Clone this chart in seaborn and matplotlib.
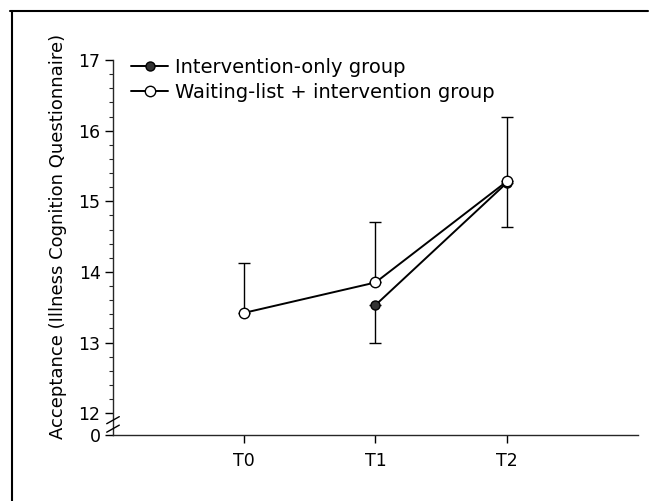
import numpy as np
import pandas as pd
import seaborn as sns
import matplotlib.pyplot as plt
from matplotlib.lines import Line2D
from matplotlib.ticker import MultipleLocator

sns.set_theme(style="ticks")
plt.rcParams["font.family"] = ["DejaVu Sans"]
plt.rcParams["text.color"] = "black"
plt.rcParams["axes.labelcolor"] = "black"

# data
timepoints = ["T0", "T1", "T2"]
waiting_mean = [13.42, 13.85, 15.28]
waiting_upper = [14.13, 14.70, 16.20]
interv_times = ["T1", "T2"]
interv_mean = [13.53, 15.26]
interv_lower = [13.00, 14.64]
ytick_vals = [12, 13, 14, 15, 16, 17]

AXIS_ZERO = 11.69  # where the "0" tick sits below the axis break

wait_df = pd.DataFrame({"x": [timepoints.index(t) for t in timepoints],
                        "y": waiting_mean})
int_df = pd.DataFrame({"x": [timepoints.index(t) for t in interv_times],
                       "y": interv_mean})

fig = plt.figure(figsize=(6.62, 5.01), dpi=100)
ax = fig.add_axes([0.1707, 0.1317, 0.7930, 0.7485])

# error bars (one-sided)
ax.errorbar(int_df["x"], int_df["y"],
            yerr=[np.array(interv_mean) - np.array(interv_lower), np.zeros(len(interv_mean))],
            fmt="none", ecolor="black", elinewidth=1.0, capsize=4.5, capthick=1.0, zorder=2)
ax.errorbar(wait_df["x"], wait_df["y"],
            yerr=[np.zeros(len(waiting_mean)), np.array(waiting_upper) - np.array(waiting_mean)],
            fmt="none", ecolor="black", elinewidth=1.0, capsize=4.5, capthick=1.0, zorder=2)

sns.lineplot(data=int_df, x="x", y="y", ax=ax, color="black", linewidth=1.4,
             marker="o", markersize=6.5, markerfacecolor="#333333",
             markeredgecolor="black", markeredgewidth=1.0, zorder=3)
sns.lineplot(data=wait_df, x="x", y="y", ax=ax, color="black", linewidth=1.4,
             marker="o", markersize=7.5, markerfacecolor="white",
             markeredgecolor="black", markeredgewidth=1.0, zorder=4)

ax.set_xlim(-1, 3)
ax.set_ylim(AXIS_ZERO, 17)
ax.set_xticks(range(len(timepoints)))
ax.set_xticklabels(timepoints)
ax.set_yticks([AXIS_ZERO] + ytick_vals)
ax.set_yticklabels(["0"] + [str(v) for v in ytick_vals])
ax.yaxis.set_minor_locator(MultipleLocator(0.2))
ax.set_xlabel("")
ax.set_ylabel("Acceptance (Illness Cognition Questionnaire)", fontsize=13)
ax.yaxis.set_label_coords(-0.087, (14.5 - AXIS_ZERO) / (17 - AXIS_ZERO))

sns.despine(ax=ax)
for s in ["left", "bottom"]:
    ax.spines[s].set_linewidth(1.0)
ax.tick_params(axis="both", which="major", length=6, width=1.0, labelsize=12.5, pad=3,
               colors="black")
ax.tick_params(axis="x", which="major", pad=6)
ax.tick_params(axis="y", which="minor", length=3, width=0.8)
ax.tick_params(axis="x", which="minor", length=0)
# hide minor ticks below the break
for t, loc in zip(ax.yaxis.get_minor_ticks(), ax.yaxis.get_minorticklocs()):
    if loc < 12.05:
        t.tick1line.set_visible(False)

# axis break marks
tr = ax.get_yaxis_transform()
for yb in (11.78, 11.90):
    ax.plot([-0.012, 0.012], [yb - 0.05, yb + 0.05], transform=tr, color="black",
            lw=1.0, clip_on=False, zorder=5)

handles = [
    Line2D([], [], color="black", lw=1.4, marker="o", markersize=6.5,
           markerfacecolor="#333333", markeredgecolor="black"),
    Line2D([], [], color="black", lw=1.4, marker="o", markersize=7.5,
           markerfacecolor="white", markeredgecolor="black"),
]
ax.legend(handles, ["Intervention-only group", "Waiting-list + intervention group"],
          loc="upper left", bbox_to_anchor=(0.035, 1.005), frameon=False,
          fontsize=14, handlelength=1.9, handletextpad=0.35, labelspacing=0.3,
          borderpad=0, borderaxespad=0)

# partial frame around the figure (top and left)
fig.add_artist(Line2D([10 / 662, 648 / 662], [1 - 11 / 501, 1 - 11 / 501],
                      transform=fig.transFigure, color="black", lw=1.5))
fig.add_artist(Line2D([12 / 662, 12 / 662], [0, 1 - 11 / 501],
                      transform=fig.transFigure, color="black", lw=1.5))

fig.savefig("out.png", dpi=100)
